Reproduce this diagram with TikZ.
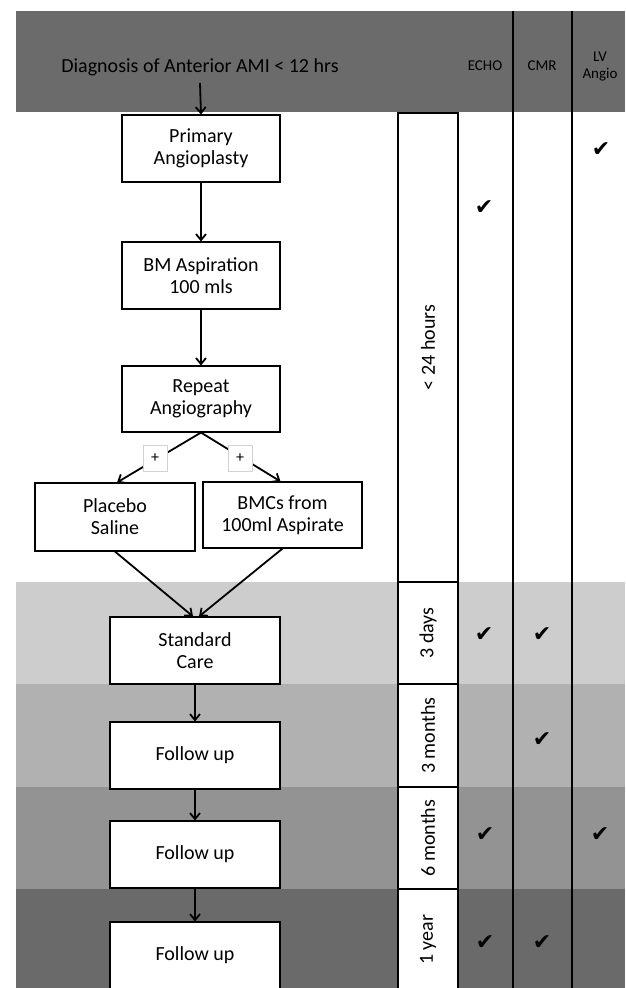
\documentclass[tikz,border=0pt]{standalone}
\usepackage{fontspec}
\setmainfont{Carlito}
\newfontfamily\symfont{DejaVu Sans}
\usetikzlibrary{arrows.meta}
\definecolor{hdr}{HTML}{6B6B6B}
\definecolor{bandA}{HTML}{CDCDCD}
\definecolor{bandB}{HTML}{B1B1B1}
\definecolor{bandC}{HTML}{939393}
\definecolor{bandD}{HTML}{6A6A6A}
\begin{document}
\begin{tikzpicture}[x=1pt,y=-1pt,
  flow/.style={draw=black, line width=1.1pt, fill=white, align=center, font=\fontsize{20}{22}\selectfont, inner sep=0pt},
  timebox/.style={draw=black, line width=1.1pt, fill=white, rotate=90, font=\fontsize{20}{22}\selectfont, inner sep=0pt, minimum height=60pt},
  plusbox/.style={fill=white, draw=gray!35, line width=0.6pt, minimum width=24pt, minimum height=26pt, inner sep=0pt, font=\fontsize{16}{16}\selectfont},
  arr/.style={line width=1.8pt, -{Straight Barb[length=6pt,width=10pt]}},
  chk/.style={font=\symfont\fontsize{22}{22}\selectfont, inner sep=0pt},
  colhead/.style={font=\fontsize{15}{17}\selectfont, align=center, inner sep=0pt},
  vline/.style={line width=2.4pt}
]
\useasboundingbox (0,0) rectangle (625,988);
% header and bands
\fill[hdr] (16,11) rectangle (625,112);
\fill[bandA] (16,582) rectangle (625,684);
\fill[bandB] (16,684) rectangle (625,787);
\fill[bandC] (16,787) rectangle (625,889);
\fill[bandD] (16,889) rectangle (625,988);
% column lines
\coordinate (l1t) at (513,11);
\coordinate (l1b) at (513,988);
\coordinate (l2t) at (572,11);
\coordinate (l2b) at (572,988);
\draw[vline] (l1t) -- (l1b);
\draw[vline] (l2t) -- (l2b);
% column headings
\node[font=\fontsize{20}{22}\selectfont, anchor=base, inner sep=0pt] (diag) at (200,72) {Diagnosis of Anterior AMI < 12 hrs};
\node[colhead] (echo) at (485,66) {ECHO};
\node[colhead] (cmr) at (542,66) {CMR};
\node[colhead] (lv) at (600,66) {LV\\Angio};
% time boxes
\node[timebox, minimum width=469pt] (t24) at (428,347.5) {< 24 hours};
\node[timebox, minimum width=102pt] (t3d) at (428,633) {3 days};
\node[timebox, minimum width=103pt] (t3m) at (428,735.5) {3 months};
\node[timebox, minimum width=102pt] (t6m) at (428,838) {6 months};
\node[timebox, minimum width=102pt] (t1y) at (428,940) {1 year};
% flow boxes
\node[flow, minimum width=158pt, minimum height=67pt] (prim) at (201,148.5) {Primary\\Angioplasty};
\node[flow, minimum width=158pt, minimum height=67pt] (bma) at (201,275.5) {BM Aspiration\\100 mls};
\node[flow, minimum width=158pt, minimum height=66pt] (rep) at (201,399) {Repeat\\Angiography};
\node[flow, minimum width=160pt, minimum height=68pt] (plac) at (115,517) {Placebo\\Saline};
\node[flow, minimum width=159pt, minimum height=66pt] (bmc) at (282.5,515) {BMCs from\\100ml Aspirate};
\node[flow, minimum width=170pt, minimum height=67pt] (std) at (195,650.5) {Standard\\Care};
\node[flow, minimum width=170pt, minimum height=67pt] (fu1) at (195,755.5) {Follow up};
\node[flow, minimum width=170pt, minimum height=67pt] (fu2) at (195,854.5) {Follow up};
\node[flow, minimum width=170pt, minimum height=67pt] (fu3) at (195,955.5) {Follow up};
% arrows
\coordinate (dstart) at (200,83);
\draw[arr] (dstart) -- (prim.north);
\draw[arr] (prim.south) -- (bma.north);
\draw[arr] (bma.south) -- (rep.north);
\draw[arr] (rep.south) -- ([xshift=2pt]plac.north);
\draw[arr] (rep.south) -- ([xshift=-2pt]bmc.north);
\draw[arr] (plac.south) -- ([xshift=-2pt]std.north);
\draw[arr] (bmc.south) -- ([xshift=4pt]std.north);
\draw[arr] (std.south) -- (fu1.north);
\draw[arr] (fu1.south) -- (fu2.north);
\draw[arr] (fu2.south) -- (fu3.north);
% plus boxes
\node[plusbox] (p1) at (155,458) {+};
\node[plusbox] (p2) at (240,458) {+};
% checks
\node[chk] (c1) at (601,150) {✔};
\node[chk] (c2) at (484,208) {✔};
\node[chk] (c3) at (484,635) {✔};
\node[chk] (c4) at (542,635) {✔};
\node[chk] (c5) at (542,740) {✔};
\node[chk] (c6) at (485,835) {✔};
\node[chk] (c7) at (600,835) {✔};
\node[chk] (c8) at (485,943) {✔};
\node[chk] (c9) at (542,943) {✔};
\end{tikzpicture}
\end{document}
